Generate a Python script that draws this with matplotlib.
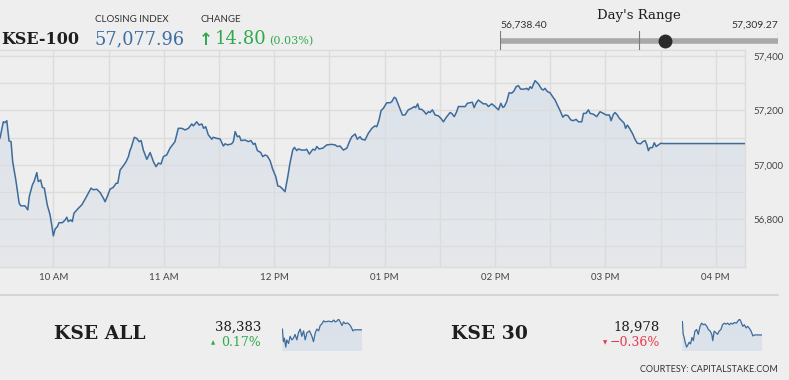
import numpy as np
import matplotlib
matplotlib.use("Agg")
import matplotlib.pyplot as plt
from matplotlib.patches import Polygon
from matplotlib.lines import Line2D
from matplotlib.colors import LinearSegmentedColormap
from matplotlib.ticker import FixedLocator, FuncFormatter

# ---------------- data ----------------
# KSE-100 intraday: minutes after 09:30 and index level
kse100_minutes = [
    1.0, 2.8, 3.7, 4.7, 5.9, 7.0, 7.9, 9.6, 11.4, 12.3, 14.6, 16.1, 16.9, 18.6, 19.5, 21.0, 21.8, 23.1,
    24.0, 25.1, 26.7, 28.2, 29.1, 30.0, 30.9, 32.2, 33.1, 34.9, 36.4, 37.3, 38.1, 39.5, 40.3, 41.2,
    43.6, 45.4, 47.2, 49.0, 50.5, 51.7, 53.6, 55.4, 57.2, 58.1, 59.3, 60.8, 62.6, 64.1, 65.0, 66.3,
    67.7, 69.5, 70.8, 71.7,
    72.2, 74.0, 75.3, 76.6, 77.7, 78.9, 80.8, 82.6, 84.4, 85.8, 87.1, 88.5, 89.8, 91.6, 93.4, 96.1,
    97.9, 99.8, 101.6, 103.4, 105.2, 106.1, 107.9, 109.2, 110.7, 111.7, 112.8, 114.2, 116.1, 116.9,
    118.8, 120.6, 122.4, 123.3, 124.8, 126.9, 127.8, 128.8, 130.0, 131.1, 132.0, 134.2, 136.0, 137.4,
    138.7, 139.6,
    140.9, 142.7, 143.8, 145.1, 146.3, 147.8, 149.2, 150.9, 152.0, 153.2, 154.7, 155.9, 157.4, 158.6,
    160.1, 161.0, 162.3, 163.2, 165.0, 166.8, 167.7, 169.1, 171.0, 172.2, 173.2, 174.4, 176.4, 178.6,
    181.3, 183.1, 184.4, 185.8, 187.6, 189.5, 190.9, 192.2, 194.0, 195.2, 196.7, 197.6, 199.4, 201.2,
    203.1, 204.8, 205.8, 207.0, 207.6,
    208.1, 209.4, 211.2, 213.0, 213.9, 215.3, 216.1, 217.9, 219.7, 221.1, 222.9, 224.8, 226.2, 226.9,
    228.0, 228.9, 230.2, 231.6, 232.6, 233.8, 234.7, 236.0, 237.5, 239.2, 240.6, 242.0, 243.4, 245.6,
    246.5, 247.9, 249.2, 250.1, 252.3, 253.8, 255.0, 256.5, 257.7, 258.7, 259.7, 261.0, 262.5, 263.7,
    265.2, 266.4, 268.3, 269.7, 271.0, 271.9, 273.2, 274.3,
    275.1, 276.4, 277.7, 279.1, 280.4, 281.5, 282.7, 284.0, 285.8, 287.3, 288.2, 289.1, 290.0, 291.8,
    293.6, 295.4, 296.3, 297.2, 298.5, 299.9, 301.4, 302.7, 303.9, 305.4, 306.9, 308.1, 309.6, 311.2,
    312.6, 314.1, 315.4, 317.2, 318.1, 319.5, 320.8, 321.7, 323.5, 325.3, 327.1, 328.9, 330.4, 332.2,
    333.1, 334.4, 335.3, 336.5, 337.6, 338.9, 340.2,
    341.0, 342.0, 343.4, 344.9, 346.1, 347.4, 349.2, 350.3, 351.6, 352.5, 353.4, 354.3, 355.6, 356.6,
    357.6, 358.8, 360.1, 361.5, 405.9,
]
kse100_values = [
    57098, 57158, 57155, 57162, 57088, 57085, 57011, 56944, 56859, 56849, 56849, 56834, 56883, 56926,
    56938, 56971, 56938, 56944, 56917, 56914, 56852, 56816, 56779, 56738.40, 56763, 56773, 56787, 56787,
    56797, 56807, 56791, 56797, 56791, 56822, 56840, 56852, 56873, 56895, 56914, 56908, 56910, 56898,
    56877, 56864, 56883, 56910, 56917, 56932, 56932, 56981, 56993, 57011, 57030, 57054,
    57061, 57101, 57097, 57085, 57089, 57054, 57020, 57045, 57011, 56993, 57006, 57003, 57030, 57036,
    57061, 57085, 57134, 57134, 57128, 57134, 57150, 57143, 57158, 57146, 57150, 57134, 57140, 57110,
    57094, 57101, 57097, 57095, 57069, 57077, 57073, 57077, 57085, 57122, 57103, 57106, 57089, 57091,
    57085, 57089, 57075, 57079,
    57052, 57045, 57030, 57036, 57032, 57015, 56984, 56956, 56922, 56920, 56910, 56901, 56956, 57006,
    57054, 57064, 57052, 57058, 57054, 57054, 57057, 57039, 57057, 57054, 57067, 57058, 57061, 57073,
    57075, 57073, 57067, 57069, 57054, 57061, 57085, 57103, 57113, 57094, 57103, 57094, 57091, 57116,
    57134, 57143, 57140, 57165, 57183,
    57199, 57208, 57228, 57228, 57232, 57248, 57245, 57214, 57183, 57183, 57202, 57208, 57214, 57210,
    57224, 57204, 57204, 57195, 57186, 57195, 57192, 57202, 57183, 57180, 57171, 57158, 57173, 57192,
    57189, 57177, 57195, 57214, 57214, 57214, 57226, 57228, 57230, 57210, 57226, 57238, 57230, 57224,
    57224, 57214, 57224, 57216, 57208, 57202, 57226, 57211,
    57214, 57232, 57265, 57263, 57272, 57287, 57291, 57278, 57278, 57281, 57275, 57287, 57281, 57309.27,
    57297, 57278, 57275, 57281, 57269, 57265, 57250, 57238, 57220, 57199, 57175, 57183, 57181, 57165,
    57162, 57167, 57158, 57158, 57189, 57189, 57202, 57189, 57186, 57177, 57195, 57189, 57183, 57183,
    57162, 57186, 57192, 57183, 57171, 57162, 57153,
    57134, 57146, 57131, 57113, 57094, 57079, 57077, 57085, 57089, 57075, 57052, 57063, 57063, 57081,
    57067, 57073, 57079, 57077.96, 57077.96,
]

hour_ticks_minutes = [30, 90, 150, 210, 270, 330, 390]
hour_tick_labels = ["10 AM", "11 AM", "12 PM", "01 PM", "02 PM", "03 PM", "04 PM"]
y_label_ticks = [56800, 57000, 57200, 57400]
y_grid_ticks = [56700, 56800, 56900, 57000, 57100, 57200, 57300, 57400]

closing_index = 57077.96
change_points = 14.80
change_pct = 0.03
day_low = 56738.40
day_high = 57309.27

# KSE ALL sparkline
kse_all_minutes = [4, 9, 14, 21, 26, 35, 43, 52, 60, 68, 77, 85, 94, 102, 111, 119, 128, 141, 153,
                   161, 170, 178, 187, 195, 204, 212, 220, 237, 254, 263, 271, 279, 288, 296, 305,
                   313, 322, 333, 344, 352, 360, 367, 406]
kse_all_values = [38387, 38317, 38337, 38287, 38327, 38307, 38347, 38327, 38337, 38357, 38327, 38367,
                  38387, 38347, 38377, 38327, 38367, 38377, 38347, 38317, 38367, 38387, 38377, 38407,
                  38417, 38433, 38427, 38431, 38427, 38437, 38427, 38431, 38443, 38427, 38407, 38427,
                  38417, 38421, 38411, 38397, 38377, 38383, 38383]
kse_all_close = 38383
kse_all_pct = 0.17

# KSE 30 sparkline
kse30_minutes = [5, 9, 14, 19, 26, 31, 39, 46, 53, 60, 68, 77, 85, 94, 102, 111, 119, 128, 136, 145,
                 153, 158, 165, 174, 182, 190, 199, 207, 216, 224, 233, 241, 250, 258, 266, 277, 285,
                 293, 300, 309, 317, 326, 334, 343, 351, 360, 368, 406]
kse30_values = [19020, 18980, 18970, 18955, 18940, 18945, 18955, 18950, 18970, 18960, 18990, 18995,
                18980, 19005, 19015, 19010, 19012, 19005, 18995, 18990, 18980, 18960, 18990, 18985,
                18980, 18990, 18995, 19010, 19015, 19012, 19015, 19010, 19015, 19012, 19017, 19015,
                19022, 19028, 19020, 19005, 19010, 19000, 19005, 18998, 18990, 18975, 18978, 18978]
kse30_close = 18978
kse30_pct = -0.36

# ---------------- style ----------------
BG = "#eeeeee"
GRID = "#dcdcdc"
LINE = "#3d6c9c"
GREEN = "#2eaa4b"
RED = "#e63a50"
BLUE_TXT = "#3d6fa3"
DARK = "#1e1e1e"
SERIF = ["DejaVu Serif"]
SANS = ["Lato", "DejaVu Sans"]

W, H = 789, 380
fig = plt.figure(figsize=(W / 100, H / 100), dpi=100, facecolor=BG)


def ax_px(l, t, r, b):
    return fig.add_axes([l / W, 1 - b / H, (r - l) / W, (b - t) / H])


def fx(x):
    return x / W


def fy(y):
    return 1 - y / H


def gradient_fill(ax, xs, ys, y0, c_top, c_bot, z=1):
    xs = np.asarray(xs, float)
    ys = np.asarray(ys, float)
    verts = [(xs[0], y0)] + list(zip(xs, ys)) + [(xs[-1], y0)]
    poly = Polygon(verts, closed=True, facecolor="none", edgecolor="none")
    ax.add_patch(poly)
    cmap = LinearSegmentedColormap.from_list("g", [c_bot, c_top])
    grad = np.linspace(0, 1, 256).reshape(-1, 1)
    im = ax.imshow(grad, extent=[xs[0], xs[-1], y0, ys.max()], origin="lower",
                   aspect="auto", cmap=cmap, zorder=z, interpolation="bilinear")
    im.set_clip_path(poly)


# ---------------- main chart ----------------
ax = ax_px(0, 50, 745, 267)
ax.set_facecolor(BG)
y_min, y_max = 56624, 57422
gradient_fill(ax, kse100_minutes, kse100_values, y_min, "#dbe2ea", "#e6e8eb")
ax.plot(kse100_minutes, kse100_values, color=LINE, lw=1.1, zorder=3)
ax.set_xlim(kse100_minutes[0], kse100_minutes[-1])
ax.set_ylim(y_min, y_max)

ax.xaxis.set_major_locator(FixedLocator(hour_ticks_minutes))
ax.xaxis.set_minor_locator(FixedLocator([m + 30 for m in hour_ticks_minutes]))
ax.set_xticklabels(hour_tick_labels)
ax.yaxis.set_major_locator(FixedLocator(y_label_ticks))
ax.yaxis.set_minor_locator(FixedLocator(y_grid_ticks))
ax.yaxis.set_major_formatter(FuncFormatter(lambda v, p: f"{v:,.0f}"))
ax.yaxis.tick_right()
ax.grid(True, which="both", color=GRID, lw=1.0)
ax.set_axisbelow(False)
for g in ax.get_xgridlines() + ax.get_ygridlines():
    g.set_zorder(2)
ax.tick_params(axis="both", which="both", length=0, labelsize=7, labelcolor="#444")
ax.tick_params(axis="y", pad=6)
ax.tick_params(axis="x", pad=4)
for lab in ax.get_xticklabels() + ax.get_yticklabels():
    lab.set_family(SANS)
ax.spines["left"].set_visible(False)
for s in ["right", "bottom", "top"]:
    ax.spines[s].set_color(GRID)
    ax.spines[s].set_linewidth(1.0)

# ---------------- header ----------------
fig.text(fx(1), fy(39), "KSE-100", family=SERIF, weight="bold", fontsize=11.5, color=DARK, va="center")
fig.text(fx(95), fy(20), "CLOSING INDEX", family=SANS, fontsize=7, color="#333", va="center")
fig.text(fx(95), fy(39), f"{closing_index:,.2f}", family=SERIF, fontsize=12.8, color=BLUE_TXT, va="center")
fig.text(fx(200), fy(20), "CHANGE", family=SANS, fontsize=7, color="#333", va="center")
fig.text(fx(199), fy(40), "↑", family=["DejaVu Sans"], weight="bold", fontsize=12, color=GREEN, va="center")
fig.text(fx(215), fy(39), f"{change_points:.2f}", family=SERIF, fontsize=13, color=GREEN, va="center")
fig.text(fx(269), fy(41), f"({change_pct:.2f}%)", family=SERIF, fontsize=8, color=GREEN, va="center")

# Day's range
fig.text(fx(639), fy(15), "Day's Range", family=SERIF, fontsize=9.5, color=DARK, ha="center", va="center")
fig.text(fx(500), fy(25), f"{day_low:,.2f}", family=SANS, fontsize=7.5, color="#333", va="center")
fig.text(fx(778), fy(25), f"{day_high:,.2f}", family=SANS, fontsize=7.5, color="#333", va="center", ha="right")
rax = ax_px(500, 31, 778, 50)
rax.set_xlim(day_low, day_high)
rax.set_ylim(0, 1)
rax.axis("off")
rax.plot([day_low, day_high], [0.47, 0.47], color="#a9a9a9", lw=4, solid_capstyle="butt")
for xv in [day_low, (day_low + day_high) / 2, day_high]:
    rax.plot([xv, xv], [0.0, 1.0], color="#7a7a7a", lw=0.8)
rax.plot([closing_index], [0.47], "o", color="#2a2a2a", ms=9, zorder=5)

# ---------------- bottom section ----------------
fig.add_artist(Line2D([0, fx(778)], [fy(295), fy(295)], color="#d0d0d0", lw=1.2))


def index_block(name, name_x, close, pct, price_right, tri_x, spark_l, minutes, values):
    fig.text(fx(name_x), fy(334), name, family=SERIF, weight="bold", fontsize=13.5, color=DARK,
             ha="center", va="center")
    fig.text(fx(price_right), fy(327), f"{close:,}", family=SERIF, fontsize=9.5, color=DARK,
             ha="right", va="center")
    col = GREEN if pct >= 0 else RED
    sign = "" if pct >= 0 else "\u2212"
    fig.text(fx(price_right), fy(343), f"{sign}{abs(pct):.2f}%", family=SERIF, fontsize=9,
             color=col, ha="right", va="center")
    tri = "▲" if pct >= 0 else "▼"
    fig.text(fx(tri_x), fy(343), tri, family=["DejaVu Sans"], fontsize=4, color=col,
             ha="center", va="center")
    sax = ax_px(spark_l, 319, spark_l + 80, 351)
    sax.axis("off")
    vmin = min(values) - (max(values) - min(values)) * 0.14
    gradient_fill(sax, minutes, values, vmin, "#d9e1ea", "#dde3ea")
    sax.plot(minutes, values, color=LINE, lw=0.9, zorder=3)
    sax.set_xlim(minutes[0] - 2, minutes[-1])
    sax.set_ylim(vmin, max(values))


index_block("KSE ALL", 100, kse_all_close, kse_all_pct, 261, 213, 282, kse_all_minutes, kse_all_values)
index_block("KSE 30", 489, kse30_close, kse30_pct, 660, 605, 682, kse30_minutes, kse30_values)

fig.text(fx(778), fy(370), "COURTESY: CAPITALSTAKE.COM", family=SANS, fontsize=6.5, color="#333",
         ha="right", va="center")

fig.savefig("out.png", dpi=100, facecolor=BG)
